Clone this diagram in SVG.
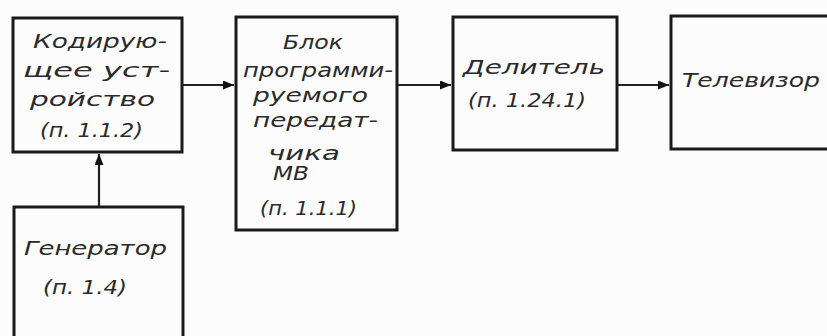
<svg xmlns="http://www.w3.org/2000/svg" width="827" height="336" viewBox="0 0 827 336">
<defs>
<marker id="ah" markerWidth="11" markerHeight="9" refX="11" refY="4.5" orient="auto" markerUnits="userSpaceOnUse">
<path d="M0,0 L11,4.5 L0,9 Z" fill="#111"/>
</marker>
<style>
.box{fill:none;stroke:#1a1a1a;stroke-width:3}
.t{font-family:"DejaVu Sans","Liberation Sans",sans-serif;font-style:italic;font-size:19px;fill:#2a2a2a}
.c{stroke:#222;stroke-width:2.2;fill:none}
</style>
</defs>
<rect width="827" height="336" fill="#fcfcfc"/>
<g id="coder">
<rect class="box" x="13" y="18" width="169" height="134"/>
<text class="t" x="33" y="48" textLength="134" lengthAdjust="spacingAndGlyphs">Кодирую-</text>
<text class="t" x="23" y="77" textLength="147" lengthAdjust="spacingAndGlyphs">щее уст-</text>
<text class="t" x="30" y="106" textLength="125" lengthAdjust="spacingAndGlyphs">ройство</text>
<text class="t" x="40" y="137" textLength="103" lengthAdjust="spacingAndGlyphs">(п. 1.1.2)</text>
</g>
<g id="transmitter">
<rect class="box" x="236" y="17" width="161" height="213"/>
<text class="t" x="283" y="49" textLength="60" lengthAdjust="spacingAndGlyphs">Блок</text>
<text class="t" x="243" y="77" textLength="150" lengthAdjust="spacingAndGlyphs">программи-</text>
<text class="t" x="253" y="102" textLength="115" lengthAdjust="spacingAndGlyphs">руемого</text>
<text class="t" x="253" y="127" textLength="125" lengthAdjust="spacingAndGlyphs">передат-</text>
<text class="t" x="268" y="160" textLength="72" lengthAdjust="spacingAndGlyphs">чика</text>
<text class="t" x="273" y="180" textLength="36" lengthAdjust="spacingAndGlyphs">МВ</text>
<text class="t" x="260" y="215" textLength="97" lengthAdjust="spacingAndGlyphs">(п. 1.1.1)</text>
</g>
<g id="divider">
<rect class="box" x="453" y="17" width="164" height="133"/>
<text class="t" x="463" y="74" textLength="142" lengthAdjust="spacingAndGlyphs">Делитель</text>
<text class="t" x="468" y="107" textLength="118" lengthAdjust="spacingAndGlyphs">(п. 1.24.1)</text>
</g>
<g id="tv">
<rect class="box" x="671" y="16" width="170" height="133"/>
<text class="t" x="682" y="87" textLength="138" lengthAdjust="spacingAndGlyphs">Телевизор</text>
</g>
<g id="generator">
<rect class="box" x="14" y="207" width="169" height="140"/>
<text class="t" x="24" y="255" textLength="143" lengthAdjust="spacingAndGlyphs">Генератор</text>
<text class="t" x="43" y="294" textLength="84" lengthAdjust="spacingAndGlyphs">(п. 1.4)</text>
</g>
<g id="connectors">
<line class="c" x1="182" y1="85" x2="234" y2="85" marker-end="url(#ah)"/>
<line class="c" x1="397" y1="85" x2="451" y2="85" marker-end="url(#ah)"/>
<line class="c" x1="617" y1="85" x2="669" y2="85" marker-end="url(#ah)"/>
<line class="c" x1="99" y1="207" x2="99" y2="154" marker-end="url(#ah)"/>
</g>
</svg>
